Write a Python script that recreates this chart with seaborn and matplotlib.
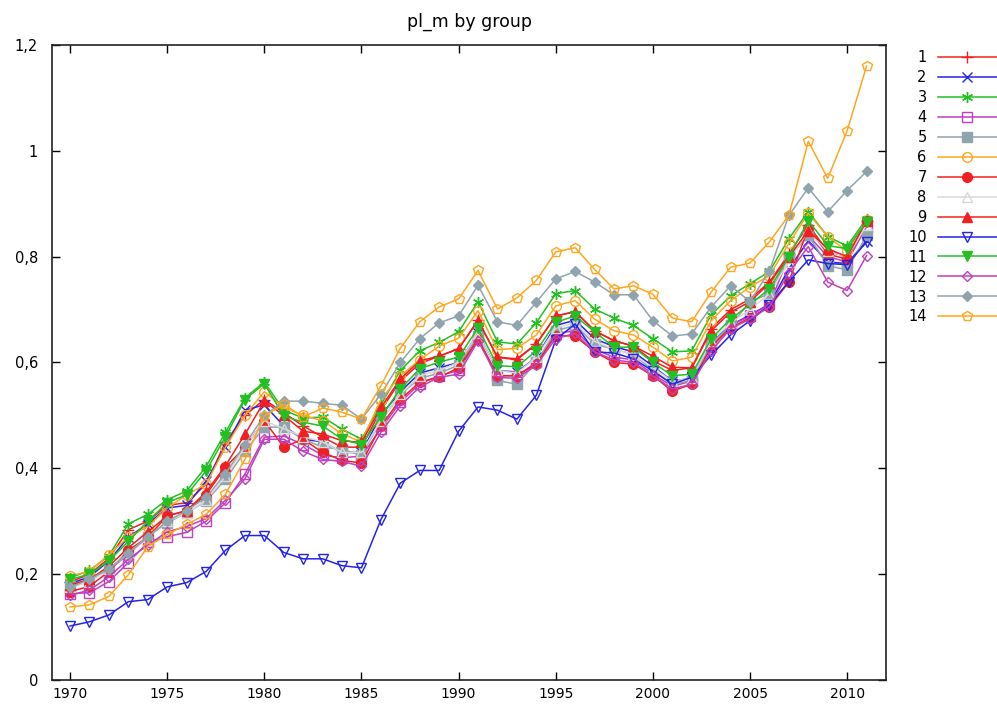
import matplotlib
matplotlib.use("Agg")
import matplotlib.pyplot as plt
from matplotlib.lines import Line2D
from matplotlib.ticker import FuncFormatter
import seaborn as sns
import pandas as pd

years = list(range(1970, 2012))

g1 = [0.185, 0.200, 0.230, 0.284, 0.300, 0.330, 0.335, 0.370, 0.450, 0.500, 0.530, 0.505, 0.480, 0.459,
      0.440, 0.440, 0.510, 0.565, 0.598, 0.612, 0.626, 0.680, 0.610, 0.607, 0.635, 0.688, 0.696, 0.660,
      0.641, 0.631, 0.603, 0.585, 0.590, 0.664, 0.700, 0.720, 0.752, 0.805, 0.860, 0.810, 0.800, 0.868]
g2 = [0.182, 0.195, 0.225, 0.270, 0.295, 0.325, 0.330, 0.376, 0.440, 0.510, 0.520, 0.480, 0.455, 0.450,
      0.430, 0.430, 0.500, 0.545, 0.580, 0.590, 0.600, 0.655, 0.585, 0.582, 0.610, 0.670, 0.680, 0.645,
      0.630, 0.620, 0.593, 0.565, 0.570, 0.640, 0.670, 0.690, 0.710, 0.777, 0.830, 0.790, 0.787, 0.830]
g3 = [0.193, 0.207, 0.235, 0.295, 0.313, 0.341, 0.357, 0.403, 0.468, 0.533, 0.563, 0.510, 0.495, 0.497,
      0.474, 0.455, 0.520, 0.585, 0.622, 0.638, 0.658, 0.715, 0.639, 0.635, 0.675, 0.730, 0.736, 0.701,
      0.684, 0.670, 0.645, 0.620, 0.622, 0.690, 0.726, 0.749, 0.772, 0.834, 0.885, 0.838, 0.820, 0.872]
g4 = [0.163, 0.165, 0.186, 0.222, 0.260, 0.271, 0.279, 0.300, 0.335, 0.389, 0.459, 0.461, 0.445, 0.425,
      0.420, 0.423, 0.475, 0.525, 0.560, 0.575, 0.585, 0.645, 0.575, 0.575, 0.600, 0.655, 0.660, 0.625,
      0.610, 0.605, 0.578, 0.555, 0.565, 0.630, 0.670, 0.688, 0.710, 0.800, 0.840, 0.800, 0.790, 0.857]
g5 = [0.177, 0.190, 0.208, 0.237, 0.271, 0.297, 0.316, 0.338, 0.379, 0.432, 0.478, 0.478, 0.455, 0.440,
      0.436, 0.425, 0.490, 0.540, 0.570, 0.580, 0.595, 0.650, 0.566, 0.559, 0.600, 0.660, 0.670, 0.635,
      0.625, 0.615, 0.585, 0.560, 0.565, 0.635, 0.670, 0.715, 0.730, 0.800, 0.840, 0.783, 0.775, 0.840]
g6 = [0.197, 0.205, 0.237, 0.270, 0.290, 0.325, 0.350, 0.370, 0.440, 0.500, 0.545, 0.515, 0.500, 0.490,
      0.465, 0.450, 0.530, 0.575, 0.605, 0.631, 0.646, 0.698, 0.624, 0.627, 0.652, 0.707, 0.717, 0.682,
      0.660, 0.652, 0.629, 0.603, 0.610, 0.679, 0.717, 0.743, 0.764, 0.825, 0.882, 0.838, 0.810, 0.870]
g7 = [0.167, 0.177, 0.205, 0.245, 0.270, 0.310, 0.320, 0.350, 0.402, 0.440, 0.490, 0.440, 0.455, 0.430,
      0.415, 0.410, 0.480, 0.530, 0.563, 0.572, 0.590, 0.645, 0.575, 0.575, 0.597, 0.651, 0.650, 0.620,
      0.600, 0.597, 0.575, 0.546, 0.559, 0.630, 0.665, 0.685, 0.705, 0.752, 0.855, 0.805, 0.795, 0.868]
g8 = [0.175, 0.185, 0.210, 0.240, 0.270, 0.300, 0.315, 0.340, 0.385, 0.440, 0.490, 0.475, 0.460, 0.450,
      0.430, 0.430, 0.490, 0.540, 0.575, 0.585, 0.600, 0.655, 0.585, 0.580, 0.610, 0.665, 0.675, 0.640,
      0.625, 0.615, 0.590, 0.565, 0.570, 0.640, 0.675, 0.700, 0.730, 0.790, 0.850, 0.810, 0.800, 0.860]
g9 = [0.180, 0.190, 0.215, 0.250, 0.280, 0.310, 0.320, 0.355, 0.405, 0.464, 0.527, 0.500, 0.470, 0.465,
      0.452, 0.449, 0.515, 0.569, 0.603, 0.612, 0.626, 0.679, 0.610, 0.605, 0.635, 0.688, 0.696, 0.660,
      0.641, 0.631, 0.612, 0.591, 0.590, 0.660, 0.695, 0.715, 0.750, 0.800, 0.849, 0.815, 0.800, 0.868]
g10 = [0.102, 0.110, 0.123, 0.148, 0.152, 0.176, 0.184, 0.205, 0.245, 0.273, 0.273, 0.241, 0.229, 0.229,
       0.216, 0.212, 0.303, 0.372, 0.396, 0.396, 0.470, 0.516, 0.510, 0.493, 0.538, 0.643, 0.673, 0.620,
       0.618, 0.607, 0.584, 0.559, 0.572, 0.614, 0.652, 0.679, 0.709, 0.753, 0.794, 0.787, 0.785, 0.828]
g11 = [0.190, 0.200, 0.225, 0.262, 0.300, 0.335, 0.350, 0.395, 0.460, 0.530, 0.560, 0.499, 0.487, 0.480,
       0.455, 0.445, 0.497, 0.550, 0.588, 0.601, 0.610, 0.665, 0.594, 0.592, 0.622, 0.676, 0.688, 0.658,
       0.629, 0.629, 0.600, 0.575, 0.578, 0.645, 0.682, 0.710, 0.739, 0.800, 0.868, 0.821, 0.815, 0.866]
g12 = [0.160, 0.170, 0.195, 0.228, 0.255, 0.280, 0.290, 0.305, 0.340, 0.380, 0.455, 0.455, 0.432, 0.417,
       0.413, 0.404, 0.468, 0.518, 0.554, 0.572, 0.578, 0.641, 0.572, 0.570, 0.595, 0.645, 0.655, 0.620,
       0.605, 0.600, 0.575, 0.550, 0.559, 0.622, 0.664, 0.682, 0.705, 0.770, 0.819, 0.752, 0.736, 0.802]
g13 = [0.175, 0.190, 0.210, 0.240, 0.270, 0.300, 0.320, 0.345, 0.390, 0.445, 0.500, 0.527, 0.527, 0.523,
       0.519, 0.493, 0.540, 0.600, 0.645, 0.675, 0.688, 0.746, 0.677, 0.670, 0.714, 0.758, 0.772, 0.752,
       0.728, 0.728, 0.679, 0.650, 0.654, 0.705, 0.745, 0.715, 0.773, 0.878, 0.930, 0.885, 0.925, 0.961]
g14 = [0.138, 0.142, 0.158, 0.199, 0.252, 0.275, 0.294, 0.313, 0.351, 0.417, 0.499, 0.521, 0.497, 0.514,
       0.506, 0.493, 0.556, 0.627, 0.677, 0.705, 0.720, 0.774, 0.701, 0.722, 0.755, 0.809, 0.817, 0.776,
       0.739, 0.745, 0.729, 0.684, 0.677, 0.733, 0.780, 0.788, 0.828, 0.878, 1.018, 0.948, 1.038, 1.160]

groups = ["1", "2", "3", "4", "5", "6", "7", "8", "9", "10", "11", "12", "13", "14"]
series = [g1, g2, g3, g4, g5, g6, g7, g8, g9, g10, g11, g12, g13, g14]

RED, BLUE, GREEN, MAG, GRAY, ORANGE, LIGHT = "#f02020", "#2424e8", "#22c022", "#c040c0", "#90a4ae", "#ffa620", "#d8d8d8"
ASTERISK = (6, 2, 0)
styles = {
    "1": (RED, "+", False), "2": (BLUE, "x", False), "3": (GREEN, ASTERISK, False),
    "4": (MAG, "s", False), "5": (GRAY, "s", True), "6": (ORANGE, "o", False),
    "7": (RED, "o", True), "8": (LIGHT, "^", False), "9": (RED, "^", True),
    "10": (BLUE, "v", False), "11": (GREEN, "v", True), "12": (MAG, "D", False),
    "13": (GRAY, "D", True), "14": (ORANGE, "p", False),
}
sizes = {"+": 8, "x": 7, ASTERISK: 8, "s": 6.5, "o": 7, "^": 7, "v": 7, "D": 5.5, "p": 7}

df = pd.DataFrame(
    [(y, v, g) for g, vals in zip(groups, series) for y, v in zip(years, vals)],
    columns=["year", "pl_m", "group"],
)

fig = plt.figure(figsize=(9.97, 7.09), dpi=100)
ax = fig.add_axes([52 / 997, 29 / 709, 834 / 997, 635 / 709])

handles = []
for g in groups:
    color, marker, filled = styles[g]
    ms = sizes[marker]
    kw = dict(color=color, marker=marker, markersize=ms, markeredgecolor=color,
              markeredgewidth=1.0, linewidth=1.1)
    kw["markerfacecolor"] = color if filled else "none"
    sns.lineplot(data=df[df["group"] == g], x="year", y="pl_m", ax=ax,
                 legend=False, estimator=None, **kw)
    handles.append(Line2D([], [], **kw))

ax.set_xlim(1969.07, 2012.0)
ax.set_ylim(0, 1.2)
ax.set_xticks(range(1970, 2011, 5))
ax.set_yticks([0, 0.2, 0.4, 0.6, 0.8, 1.0, 1.2])
ax.yaxis.set_major_formatter(FuncFormatter(lambda v, p: f"{v:g}".replace(".", ",")))
ax.set_xlabel("")
ax.set_ylabel("")
ax.tick_params(direction="in", length=6, width=1, top=True, right=True,
               labelsize=10, colors="black")
ax.tick_params(axis="y", pad=10, labelsize=10.5)
ax.tick_params(axis="x", pad=5)
for s in ax.spines.values():
    s.set_linewidth(1.2)
    s.set_color("#222222")
ax.set_title("pl_m by group", fontsize=12.5, pad=13)

fig.legend(handles, groups, loc="upper left", bbox_to_anchor=(908 / 997, 1 - 50 / 709),
           frameon=False, markerfirst=False, handlelength=4.0, labelspacing=0.34,
           fontsize=10.5, borderaxespad=0, handletextpad=0.8, borderpad=0)

fig.savefig("out.png", dpi=100)
